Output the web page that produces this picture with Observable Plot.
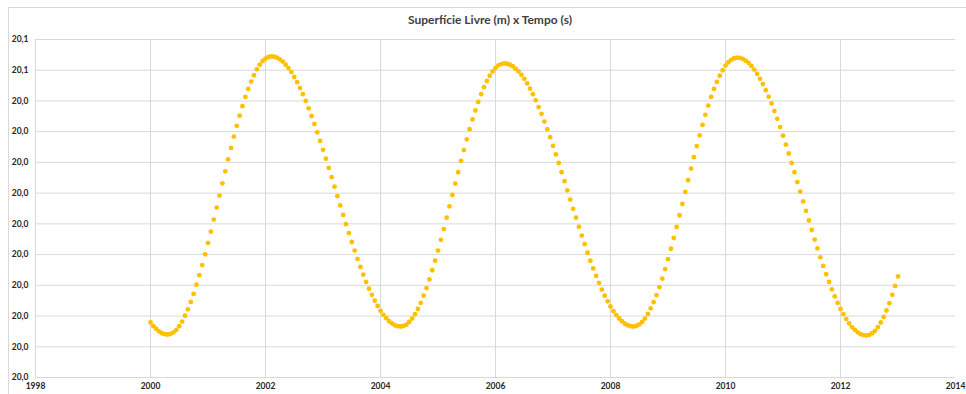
<!DOCTYPE html>
<html><head><meta charset="utf-8">
<script src="https://cdn.jsdelivr.net/npm/d3@7"></script>
<script src="https://cdn.jsdelivr.net/npm/@observablehq/plot@0.6"></script>
<style>
body{margin:0;background:#fff;}
#wrap{position:relative;width:966px;height:394px;overflow:hidden;}
#border{position:absolute;left:8px;top:7px;width:980px;height:420px;border:1px solid #d9d9d9;box-sizing:border-box;}
#title{position:absolute;left:0;width:980px;top:12px;text-align:center;font-family:Lato,"Open Sans",sans-serif;font-weight:bold;font-size:12px;color:#404040;}
#chart{position:absolute;left:0;top:0;}
</style>
</head><body>
<div id="wrap"><div id="border"></div><div id="title">Superfície Livre (m) x Tempo (s)</div><div id="chart"></div></div>
<script>
const startYear = 2000;
const stepYears = 0.05;
const surfaceLevel = [
19.9779,19.9767,19.9758,19.9750,19.9744,19.9741,19.9740,
19.9742,19.9747,19.9755,19.9767,19.9782,19.9801,19.9822,19.9846,19.9872,19.9902,19.9933,19.9966,20.0001,20.0038,20.0075,20.0114,20.0153,20.0192,20.0232,20.0271,20.0310,20.0347,20.0384,20.0419,20.0452,20.0483,20.0513,20.0539,20.0563,20.0584,20.0603,20.0618,20.0630,20.0638,20.0643,20.0645,
20.0644,20.0641,20.0635,20.0628,20.0618,20.0607,20.0594,20.0578,20.0561,20.0542,20.0522,20.0500,20.0476,20.0451,20.0425,20.0398,20.0370,20.0341,20.0312,20.0282,20.0252,20.0221,20.0190,20.0160,20.0129,20.0099,20.0070,20.0041,20.0013,19.9986,19.9960,19.9935,19.9911,19.9889,19.9869,19.9850,19.9833,19.9817,19.9804,19.9793,19.9783,19.9776,19.9770,19.9767,19.9766,
19.9768,19.9772,19.9781,19.9792,19.9806,19.9823,19.9843,19.9866,19.9891,19.9919,19.9949,19.9980,20.0013,20.0048,20.0083,20.0120,20.0157,20.0194,20.0231,20.0268,20.0305,20.0340,20.0375,20.0408,20.0440,20.0469,20.0497,20.0522,20.0545,20.0565,20.0582,20.0596,20.0607,20.0616,20.0620,20.0622,
20.0621,20.0618,20.0613,20.0605,20.0596,20.0585,20.0572,20.0557,20.0540,20.0522,20.0502,20.0480,20.0458,20.0433,20.0408,20.0382,20.0354,20.0326,20.0298,20.0268,20.0239,20.0209,20.0179,20.0149,20.0120,20.0091,20.0062,20.0034,20.0006,19.9980,19.9955,19.9931,19.9908,19.9886,19.9866,19.9848,19.9831,19.9816,19.9803,19.9792,19.9783,19.9775,19.9770,19.9767,19.9766,
19.9768,19.9773,19.9781,19.9792,19.9807,19.9825,19.9845,19.9868,19.9894,19.9922,19.9953,19.9985,20.0019,20.0054,20.0090,20.0128,20.0165,20.0204,20.0242,20.0280,20.0317,20.0353,20.0388,20.0422,20.0455,20.0485,20.0513,20.0539,20.0562,20.0582,20.0600,20.0615,20.0626,20.0634,20.0639,20.0641,
20.0640,20.0637,20.0631,20.0624,20.0614,20.0602,20.0588,20.0572,20.0555,20.0535,20.0514,20.0492,20.0467,20.0442,20.0415,20.0387,20.0358,20.0329,20.0298,20.0268,20.0236,20.0205,20.0173,20.0142,20.0111,20.0080,20.0049,20.0020,19.9991,19.9963,19.9936,19.9911,19.9887,19.9864,19.9843,19.9823,19.9806,19.9790,19.9776,19.9764,19.9755,19.9747,19.9741,19.9738,19.9737,
19.9739,19.9744,19.9752,19.9764,19.9779,19.9797,19.9818,19.9842,19.9869,19.9898,19.9929
];
const xTicks = [1998, 2000, 2002, 2004, 2006, 2008, 2010, 2012, 2014];
const xGridTicks = [1998, 2000, 2002, 2004, 2006, 2008, 2010, 2012];
const yTicks = [19.96, 19.97, 19.98, 19.99, 20.00, 20.01, 20.02, 20.03, 20.04, 20.05, 20.06, 20.07];
const yTickLabels = ["20,0","20,0","20,0","20,0","20,0","20,0","20,0","20,0","20,0","20,0","20,1","20,1"];

const data = surfaceLevel.map((v, i) => ({t: startYear + i * stepYears, v}));

const chart = Plot.plot({
  width: 966, height: 394,
  marginLeft: 35, marginRight: 11, marginTop: 39, marginBottom: 17,
  x: {domain: [1998, 2014]},
  y: {domain: [19.96, 20.07]},
  style: {fontFamily: "Lato, 'Open Sans', sans-serif", fontSize: "8.5px", fontWeight: "bold", color: "#262626", background: "transparent", overflow: "visible"},
  marks: [
    Plot.gridY(yTicks, {stroke: "#d9d9d9", strokeOpacity: 1}),
    Plot.gridX(xGridTicks, {stroke: "#d9d9d9", strokeOpacity: 1}),
    Plot.axisY(yTicks, {tickSize: 0, tickPadding: 7, label: null, tickFormat: d => yTickLabels[yTicks.indexOf(d)]}),
    Plot.axisX(xTicks, {tickSize: 0, tickPadding: 5, label: null, tickFormat: d => String(d)}),
    Plot.dot(data, {x: "t", y: "v", r: 2.4, fill: "#FFC000", stroke: null})
  ]
});
document.getElementById("chart").appendChild(chart);
</script>
</body></html>
